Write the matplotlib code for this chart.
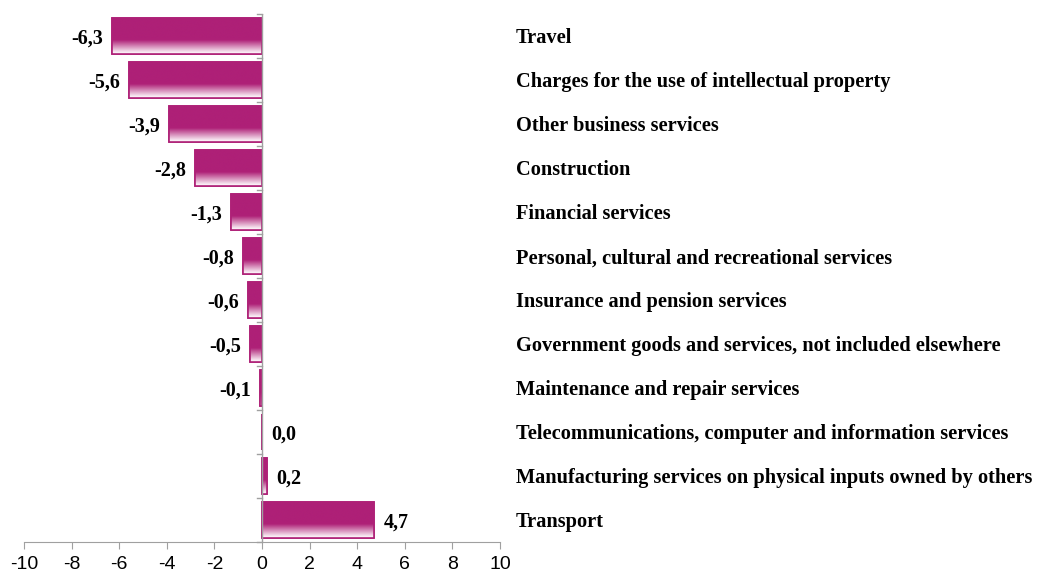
import matplotlib
matplotlib.use("Agg")
import matplotlib.pyplot as plt
import matplotlib.transforms as mtransforms
from matplotlib.colors import LinearSegmentedColormap
import numpy as np

categories = [
    "Travel",
    "Charges for the use of intellectual property",
    "Other business services",
    "Construction",
    "Financial services",
    "Personal, cultural and recreational services",
    "Insurance and pension services",
    "Government goods and services, not included elsewhere",
    "Maintenance and repair services",
    "Telecommunications, computer and information services",
    "Manufacturing services on physical inputs owned by others",
    "Transport",
]
values = [-6.3, -5.6, -3.9, -2.8, -1.3, -0.8, -0.6, -0.5, -0.1, 0.0, 0.2, 4.7]
xticks = [-10, -8, -6, -4, -2, 0, 2, 4, 6, 8, 10]

bar_color = "#AE2077"
serif = ["Liberation Serif", "DejaVu Serif"]

fig = plt.figure(figsize=(10.42, 5.76), dpi=100)
ax = fig.add_axes([24 / 1042, 1 - 542 / 576, 476 / 1042, 528 / 576])

y = np.arange(len(categories))
bars = ax.barh(y, values, height=0.82, color=bar_color, edgecolor=bar_color,
               linewidth=1.2, zorder=2)

# gradient fade towards the bottom of each bar
grad = LinearSegmentedColormap.from_list(
    "fade", [(0, bar_color), (0.62, bar_color), (0.93, "#F3DCEA"), (1.0, "#FFFFFF")])
col = np.linspace(0, 1, 100).reshape(-1, 1)
for b in bars:
    x0, y0 = b.get_x(), b.get_y()
    w, h = b.get_width(), b.get_height()
    if w == 0:
        continue
    im = ax.imshow(col, cmap=grad, aspect="auto", interpolation="bicubic",
                   extent=[min(x0, x0 + w), max(x0, x0 + w), y0 + h, y0],
                   zorder=3)
    im.set_clip_path(b)
# redraw the outline on top of the gradient
ax.barh(y, values, height=0.82, facecolor="none", edgecolor=bar_color,
        linewidth=1.2, zorder=3.5)

ax.set_xlim(-10, 10)
ax.set_ylim(len(categories) - 0.5, -0.5)
ax.set_xticks(xticks)
ax.set_xticklabels([str(t) for t in xticks], fontsize=14,
                   family=["Liberation Sans", "DejaVu Sans"])

for s in ["top", "right", "left"]:
    ax.spines[s].set_visible(False)
ax.spines["bottom"].set_color("#A0A0A0")
ax.tick_params(axis="x", colors="#A0A0A0", length=5, labelcolor="black", pad=5)

# vertical axis at zero with category boundary ticks
ax.axvline(0, color="#A0A0A0", lw=1, zorder=4)
ax.set_yticks([])
for yb in np.arange(-0.5, len(categories), 1.0):
    ax.plot([-0.22, 0], [yb, yb], color="#A0A0A0", lw=1, clip_on=False, zorder=4)

# value labels
for yi, v in zip(y, values):
    txt = f"{v:.1f}".replace(".", ",")
    if v < 0:
        ax.text(v - 0.38, yi + 0.05, txt, ha="right", va="center", fontsize=14.5,
                fontweight="bold", family=serif)
    else:
        ax.text(v + 0.4, yi + 0.05, txt, ha="left", va="center", fontsize=14.5,
                fontweight="bold", family=serif)

# category labels to the right
trans = mtransforms.blended_transform_factory(fig.transFigure, ax.transData)
for yi, c in zip(y, categories):
    ax.text(516 / 1042, yi + 0.05, c, transform=trans, ha="left", va="center",
            fontsize=14.7, fontweight="bold", family=serif)

fig.savefig("out.png", dpi=100)
